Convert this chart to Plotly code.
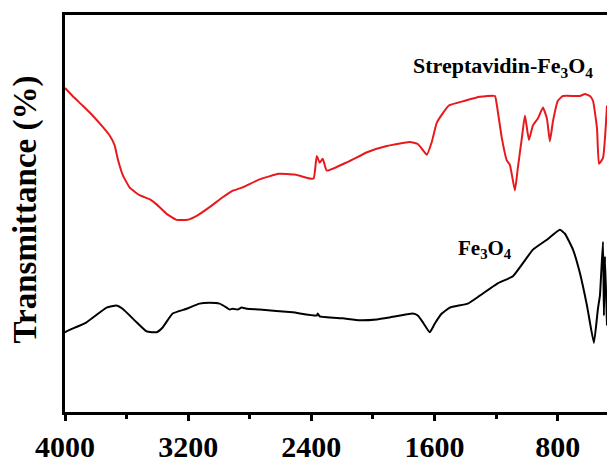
import plotly.graph_objects as go

# Streptavidin-Fe3O4 (red)
red_wn = [4000, 3951, 3886, 3821, 3763, 3711, 3678, 3659, 3626, 3581, 3516, 3451, 3405, 3340, 3275,
          3204, 3145, 3061, 2976, 2918, 2846, 2736, 2612, 2508, 2411, 2385, 2365, 2346, 2326, 2300,
          2164, 2034, 1910, 1761, 1709, 1676, 1650, 1618, 1585, 1507, 1403, 1306, 1208, 1195, 1163,
          1130, 1111, 1078, 1059, 1033, 1013, 987, 961, 929, 896, 870, 851, 831, 799, 766, 656, 623,
          591, 571, 545, 532, 506, 480]
red_t = [81.6, 79.6, 77.2, 74.7, 72.2, 69.7, 67.2, 64.0, 59.8, 56.6, 54.6, 53.6, 52.3, 49.9, 48.4,
         48.4, 49.4, 51.6, 54.1, 55.6, 56.6, 58.6, 60.0, 59.8, 58.8, 58.8, 64.5, 62.8, 63.8, 60.8,
         63.0, 65.5, 67.0, 68.0, 67.5, 66.0, 64.8, 68.0, 72.9, 77.2, 78.4, 79.4, 79.6, 77.2, 69.0,
         63.3, 62.3, 55.8, 61.5, 69.0, 74.7, 68.5, 72.2, 73.9, 76.7, 73.9, 68.2, 73.2, 78.4, 79.6, 79.6, 80.1,
         79.6, 78.4, 71.5, 62.5, 64.0, 77.2]

# Fe3O4 (black)
blk_wn = [4000, 3990, 3860, 3730, 3665, 3626, 3535, 3470, 3405, 3366, 3301, 3210, 3126, 3061, 2996,
          2950, 2931, 2911, 2879, 2853, 2820, 2736, 2521, 2365, 2359, 2346, 2196, 2086, 1975, 1891,
          1741, 1709, 1676, 1631, 1598, 1553, 1501, 1384, 1306, 1195, 1091, 1026, 961, 870, 786, 753,
          701, 656, 610, 565, 539, 526, 506, 500, 493, 480]
blk_t = [20.0, 20.3, 22.6, 26.3, 26.8, 26.0, 22.6, 20.3, 20.1, 21.3, 24.8, 26.0, 27.3, 27.5, 27.3,
         26.3, 25.8, 26.0, 25.8, 26.3, 26.0, 25.8, 25.1, 24.3, 24.8, 24.1, 23.6, 23.1, 23.3, 23.8,
         24.8, 24.3, 22.6, 20.1, 22.3, 24.8, 26.3, 27.3, 29.3, 32.3, 34.2, 37.5, 40.9, 43.4, 45.9, 44.9,
         40.9, 35.0, 26.8, 17.4, 26.0, 29.3, 42.9, 24.3, 39.2, 21.8]

x_ticks = [4000, 3200, 2400, 1600, 800]
x_tick_labels = ["4000", "3200", "2400", "1600", "800"]

FONT = "Liberation Serif, Times New Roman, serif"

fig = go.Figure()
fig.add_trace(go.Scatter(x=red_wn, y=red_t, mode="lines",
                         line=dict(color="#e8191c", width=2, shape="spline", smoothing=0.4),
                         showlegend=False))
fig.add_trace(go.Scatter(x=blk_wn, y=blk_t, mode="lines",
                         line=dict(color="black", width=2, shape="spline", smoothing=0.4),
                         showlegend=False))

fig.update_layout(
    width=607, height=463,
    margin=dict(l=65, r=0, t=15, b=45),
    paper_bgcolor="white", plot_bgcolor="white",
    xaxis=dict(range=[4000, 480], tickvals=x_ticks, ticktext=x_tick_labels,
               ticks="outside", ticklen=6, tickwidth=2.5, tickcolor="black",
               minor=dict(tickvals=[3600, 2800, 2000, 1200], ticks="outside", ticklen=4,
                          tickwidth=2.5, tickcolor="black"),
               showline=True, linecolor="black", linewidth=3, mirror=True,
               showgrid=False, zeroline=False,
               tickfont=dict(family=FONT, size=30, color="black", weight="bold")),
    yaxis=dict(range=[0, 100], showticklabels=False, ticks="",
               showline=True, linecolor="black", linewidth=3,
               showgrid=False, zeroline=False),
)

fig.add_annotation(text="<b>Transmittance (%)</b>", xref="paper", yref="paper",
                   x=-0.072, y=0.51, xanchor="center", yanchor="middle",
                   textangle=-90, showarrow=False,
                   font=dict(family=FONT, size=33, color="black"))
fig.add_annotation(text="<b>Streptavidin-Fe<sub>3</sub>O<sub>4</sub></b>", xref="paper", yref="paper",
                   x=0.808, y=0.87, xanchor="center", yanchor="middle", showarrow=False,
                   font=dict(family=FONT, size=22, color="black"))
fig.add_annotation(text="<b>Fe<sub>3</sub>O<sub>4</sub></b>", xref="paper", yref="paper",
                   x=0.775, y=0.41, xanchor="center", yanchor="middle", showarrow=False,
                   font=dict(family=FONT, size=21, color="black"))

fig.write_html("out.html")
